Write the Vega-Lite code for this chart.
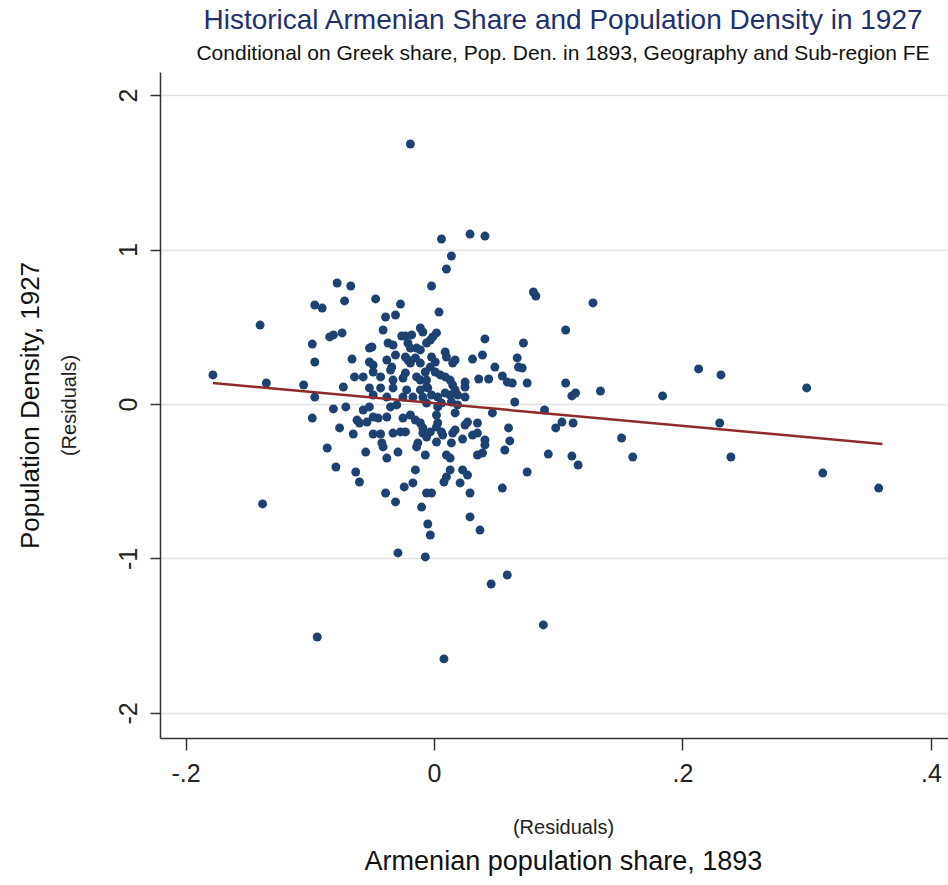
{
  "$schema": "https://vega.github.io/schema/vega-lite/v6.json",
  "width": 788,
  "height": 666,
  "autosize": {"type": "none"},
  "padding": {"left": 160, "top": 72, "right": 0, "bottom": 147},
  "background": "white",
  "config": {"view": {"stroke": null}, "font": "Liberation Sans"},
  "title": {
    "text": "Historical Armenian Share and Population Density in 1927",
    "subtitle": "Conditional on Greek share, Pop. Den. in 1893, Geography and Sub-region FE",
    "anchor": "middle",
    "frame": "group",
    "dx": 9,
    "fontSize": 28,
    "fontWeight": "normal",
    "color": "#22306e",
    "subtitleFontSize": 21,
    "subtitleColor": "#111111",
    "subtitlePadding": 8,
    "offset": 8
  },
  "datasets": {
    "pts": [
      {"x": -0.019, "y": 1.683}, {"x": -0.178, "y": 0.188}, {"x": -0.140, "y": 0.511}, {"x": -0.135, "y": 0.136},
      {"x": -0.138, "y": -0.647}, {"x": -0.105, "y": 0.123}, {"x": -0.096, "y": 0.641}, {"x": -0.098, "y": 0.388},
      {"x": -0.096, "y": 0.272}, {"x": -0.096, "y": 0.045}, {"x": -0.098, "y": -0.091}, {"x": -0.094, "y": -1.508},
      {"x": 0.006, "y": 1.068}, {"x": 0.029, "y": 1.100}, {"x": 0.041, "y": 1.087}, {"x": 0.014, "y": 0.958},
      {"x": 0.010, "y": 0.874}, {"x": -0.002, "y": 0.764}, {"x": -0.078, "y": 0.783}, {"x": -0.067, "y": 0.764},
      {"x": -0.072, "y": 0.667}, {"x": -0.090, "y": 0.621}, {"x": -0.047, "y": 0.680}, {"x": -0.039, "y": 0.563},
      {"x": -0.031, "y": 0.576}, {"x": -0.027, "y": 0.647}, {"x": 0.004, "y": 0.595}, {"x": 0.080, "y": 0.725},
      {"x": 0.082, "y": 0.699}, {"x": 0.128, "y": 0.654}, {"x": 0.106, "y": 0.479}, {"x": 0.213, "y": 0.227},
      {"x": 0.231, "y": 0.188}, {"x": 0.300, "y": 0.104}, {"x": 0.106, "y": 0.136}, {"x": 0.111, "y": 0.052},
      {"x": 0.114, "y": 0.071}, {"x": 0.134, "y": 0.084}, {"x": 0.184, "y": 0.052}, {"x": 0.089, "y": -0.039},
      {"x": 0.103, "y": -0.117}, {"x": 0.098, "y": -0.155}, {"x": 0.112, "y": -0.123}, {"x": 0.151, "y": -0.220},
      {"x": 0.230, "y": -0.123}, {"x": 0.092, "y": -0.324}, {"x": 0.111, "y": -0.337}, {"x": 0.116, "y": -0.395},
      {"x": 0.160, "y": -0.343}, {"x": 0.239, "y": -0.343}, {"x": 0.313, "y": -0.447}, {"x": 0.358, "y": -0.544},
      {"x": -0.060, "y": -0.505}, {"x": -0.039, "y": -0.576}, {"x": -0.024, "y": -0.537}, {"x": -0.017, "y": -0.511},
      {"x": -0.031, "y": -0.634}, {"x": -0.006, "y": -0.576}, {"x": -0.002, "y": -0.576}, {"x": 0.008, "y": -0.505},
      {"x": 0.021, "y": -0.511}, {"x": 0.029, "y": -0.576}, {"x": 0.055, "y": -0.544}, {"x": -0.010, "y": -0.667},
      {"x": -0.005, "y": -0.777}, {"x": -0.003, "y": -0.848}, {"x": 0.029, "y": -0.731}, {"x": 0.037, "y": -0.816},
      {"x": -0.029, "y": -0.964}, {"x": -0.007, "y": -0.990}, {"x": 0.046, "y": -1.165}, {"x": 0.059, "y": -1.107},
      {"x": 0.008, "y": -1.650}, {"x": 0.088, "y": -1.430},
      {"x": -0.084, "y": 0.434}, {"x": -0.081, "y": 0.447}, {"x": -0.074, "y": 0.460}, {"x": -0.041, "y": 0.479},
      {"x": -0.026, "y": 0.440}, {"x": -0.023, "y": 0.440}, {"x": -0.018, "y": 0.447}, {"x": -0.011, "y": 0.492},
      {"x": -0.009, "y": 0.466}, {"x": -0.050, "y": 0.369}, {"x": -0.052, "y": 0.362}, {"x": -0.037, "y": 0.395},
      {"x": -0.033, "y": 0.382}, {"x": -0.031, "y": 0.317}, {"x": -0.021, "y": 0.395}, {"x": -0.019, "y": 0.362},
      {"x": -0.014, "y": 0.362}, {"x": -0.011, "y": 0.350}, {"x": -0.066, "y": 0.291}, {"x": -0.052, "y": 0.272},
      {"x": -0.049, "y": 0.252}, {"x": -0.038, "y": 0.285}, {"x": -0.034, "y": 0.239}, {"x": -0.023, "y": 0.304},
      {"x": -0.021, "y": 0.285}, {"x": -0.019, "y": 0.265}, {"x": -0.015, "y": 0.298}, {"x": -0.011, "y": 0.265},
      {"x": -0.064, "y": 0.175}, {"x": -0.057, "y": 0.175}, {"x": -0.049, "y": 0.207}, {"x": -0.043, "y": 0.175},
      {"x": -0.035, "y": 0.220}, {"x": -0.033, "y": 0.155}, {"x": -0.025, "y": 0.168}, {"x": -0.023, "y": 0.201},
      {"x": -0.014, "y": 0.175}, {"x": -0.011, "y": 0.155}, {"x": -0.007, "y": 0.207}, {"x": -0.073, "y": 0.110},
      {"x": -0.052, "y": 0.104}, {"x": -0.043, "y": 0.104}, {"x": -0.049, "y": 0.058}, {"x": -0.033, "y": 0.104},
      {"x": -0.022, "y": 0.091}, {"x": -0.011, "y": 0.091}, {"x": -0.006, "y": 0.110}, {"x": -0.025, "y": 0.045},
      {"x": -0.017, "y": 0.045}, {"x": -0.009, "y": 0.045}, {"x": -0.038, "y": 0.045},
      {"x": 0.002, "y": 0.460}, {"x": -0.001, "y": 0.434}, {"x": -0.003, "y": 0.414}, {"x": -0.006, "y": 0.395},
      {"x": 0.009, "y": 0.337}, {"x": 0.010, "y": 0.304}, {"x": 0.017, "y": 0.285}, {"x": 0.015, "y": 0.265},
      {"x": 0.041, "y": 0.421}, {"x": 0.072, "y": 0.395}, {"x": 0.031, "y": 0.291}, {"x": 0.039, "y": 0.317},
      {"x": 0.049, "y": 0.239}, {"x": 0.067, "y": 0.298}, {"x": 0.068, "y": 0.239}, {"x": 0.071, "y": 0.233},
      {"x": 0.055, "y": 0.181}, {"x": 0.059, "y": 0.142}, {"x": 0.063, "y": 0.136}, {"x": 0.075, "y": 0.136},
      {"x": 0.036, "y": 0.162}, {"x": 0.044, "y": 0.162}, {"x": 0.025, "y": 0.142}, {"x": 0.025, "y": 0.110},
      {"x": 0.065, "y": 0.013}, {"x": -0.002, "y": 0.304}, {"x": 0.001, "y": 0.272}, {"x": -0.003, "y": 0.239},
      {"x": 0.001, "y": 0.207}, {"x": 0.005, "y": 0.188}, {"x": 0.009, "y": 0.175}, {"x": 0.013, "y": 0.155},
      {"x": 0.015, "y": 0.123}, {"x": 0.017, "y": 0.091}, {"x": 0.009, "y": 0.071}, {"x": 0.013, "y": 0.058},
      {"x": 0.019, "y": 0.058}, {"x": -0.006, "y": 0.155}, {"x": -0.005, "y": 0.104}, {"x": 0.025, "y": 0.045},
      {"x": 0.003, "y": 0.045}, {"x": -0.002, "y": 0.058},
      {"x": -0.081, "y": -0.032}, {"x": -0.071, "y": -0.019}, {"x": -0.076, "y": -0.155}, {"x": -0.065, "y": -0.194},
      {"x": -0.086, "y": -0.285}, {"x": -0.055, "y": -0.311}, {"x": -0.079, "y": -0.408}, {"x": -0.063, "y": -0.440},
      {"x": -0.049, "y": -0.194}, {"x": -0.043, "y": -0.194}, {"x": -0.042, "y": -0.252}, {"x": -0.041, "y": -0.278},
      {"x": -0.038, "y": -0.350}, {"x": -0.029, "y": -0.311}, {"x": -0.033, "y": -0.188}, {"x": -0.027, "y": -0.181},
      {"x": -0.023, "y": -0.181}, {"x": -0.015, "y": -0.427}, {"x": -0.014, "y": -0.278}, {"x": -0.013, "y": -0.252},
      {"x": -0.007, "y": -0.330}, {"x": -0.062, "y": -0.104}, {"x": -0.060, "y": -0.123}, {"x": -0.054, "y": -0.117},
      {"x": -0.049, "y": -0.084}, {"x": -0.045, "y": -0.091}, {"x": -0.038, "y": -0.084}, {"x": -0.035, "y": -0.019},
      {"x": -0.030, "y": -0.006}, {"x": -0.025, "y": -0.091}, {"x": -0.019, "y": -0.071}, {"x": -0.015, "y": -0.104},
      {"x": -0.011, "y": -0.123}, {"x": -0.009, "y": -0.155}, {"x": -0.057, "y": -0.039}, {"x": -0.052, "y": -0.019},
      {"x": -0.009, "y": -0.188}, {"x": -0.006, "y": -0.214},
      {"x": 0.047, "y": -0.058}, {"x": 0.035, "y": -0.123}, {"x": 0.025, "y": -0.136}, {"x": 0.027, "y": -0.117},
      {"x": 0.017, "y": -0.168}, {"x": 0.015, "y": -0.188}, {"x": 0.002, "y": -0.149}, {"x": 0.003, "y": -0.123},
      {"x": -0.003, "y": -0.181}, {"x": 0.006, "y": -0.181}, {"x": 0.007, "y": -0.201}, {"x": 0.002, "y": -0.246},
      {"x": 0.014, "y": -0.252}, {"x": 0.023, "y": -0.227}, {"x": 0.031, "y": -0.201}, {"x": 0.035, "y": -0.188},
      {"x": 0.041, "y": -0.233}, {"x": 0.041, "y": -0.265}, {"x": 0.060, "y": -0.155}, {"x": 0.061, "y": -0.239},
      {"x": 0.057, "y": -0.298}, {"x": 0.035, "y": -0.330}, {"x": 0.039, "y": -0.317}, {"x": 0.010, "y": -0.330},
      {"x": 0.013, "y": -0.350}, {"x": 0.075, "y": -0.440}, {"x": 0.013, "y": -0.427}, {"x": 0.010, "y": -0.472},
      {"x": 0.023, "y": -0.427}, {"x": 0.027, "y": -0.460}, {"x": 0.003, "y": -0.019}, {"x": 0.006, "y": 0.006},
      {"x": 0.014, "y": 0.013}, {"x": 0.019, "y": -0.006}, {"x": -0.006, "y": 0.006}, {"x": 0.017, "y": -0.058},
      {"x": 0.002, "y": -0.071}
    ],
    "fit": [
      {"x": -0.178, "y": 0.136},
      {"x": 0.361, "y": -0.259}
    ]
  },
  "layer": [
    {
      "data": {"name": "pts"},
      "mark": {"type": "circle", "size": 80, "color": "#1d4272", "opacity": 1},
      "encoding": {
        "x": {
          "field": "x", "type": "quantitative",
          "scale": {"domain": [-0.2206, 0.4138], "nice": false, "zero": false},
          "axis": {
            "orient": "bottom",
            "values": [-0.2, 0, 0.2, 0.4],
            "labelExpr": "datum.value == -0.2 ? '-.2' : datum.value == 0.2 ? '.2' : datum.value == 0.4 ? '.4' : '0'",
            "labelFontSize": 25, "labelColor": "#222222", "labelPadding": 11,
            "tickSize": 12, "tickColor": "#333333", "tickWidth": 1.5,
            "domainColor": "#333333", "domainWidth": 1.5,
            "grid": false,
            "title": "(Residuals)", "titleFontSize": 20, "titleFontWeight": "normal", "titleColor": "#222222",
            "titlePadding": 31, "titleX": 403
          }
        },
        "y": {
          "field": "y", "type": "quantitative",
          "scale": {"domain": [-2.162, 2.149], "nice": false, "zero": false},
          "axis": {
            "orient": "left",
            "values": [-2, -1, 0, 1, 2],
            "labelExpr": "datum.value < 0 ? '-' + abs(datum.value) : '' + datum.value",
            "labelAngle": -90, "labelAlign": "center", "labelBaseline": "bottom",
            "labelFontSize": 25, "labelColor": "#222222", "labelPadding": 9,
            "tickSize": 10, "tickColor": "#333333", "tickWidth": 1.5,
            "domainColor": "#333333", "domainWidth": 1.5,
            "grid": true, "gridColor": "#e3e3e3", "gridWidth": 1.5,
            "title": "(Residuals)", "titleFontSize": 20, "titleFontWeight": "normal", "titleColor": "#222222",
            "titlePadding": 37
          }
        }
      }
    },
    {
      "data": {"name": "fit"},
      "mark": {"type": "line", "color": "#8e2b2b", "strokeWidth": 2.5},
      "encoding": {
        "x": {
          "field": "x", "type": "quantitative",
          "axis": {
            "orient": "bottom", "labels": false, "ticks": false, "domain": false, "grid": false,
            "title": "Armenian population share, 1893", "titleFontSize": 27, "titleFontWeight": "normal",
            "titleColor": "#111111", "titlePadding": 110, "titleX": 403
          }
        },
        "y": {
          "field": "y", "type": "quantitative",
          "axis": {
            "orient": "left", "labels": false, "ticks": false, "domain": false, "grid": false,
            "title": "Population Density, 1927", "titleFontSize": 26, "titleFontWeight": "normal",
            "titleColor": "#111111", "titlePadding": 117
          }
        }
      }
    }
  ],
  "resolve": {"axis": {"x": "independent", "y": "independent"}}
}
